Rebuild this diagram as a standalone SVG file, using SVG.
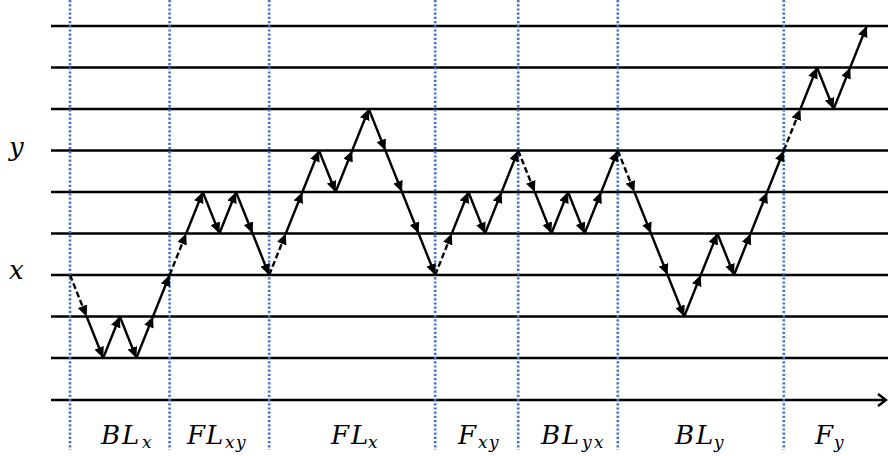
<svg xmlns="http://www.w3.org/2000/svg" width="888" height="456" viewBox="0 0 888 456">
<defs>
<style>
.grid{stroke:#000;stroke-width:2.4;fill:none}
.sep{stroke:#4472C4;stroke-width:2.6;stroke-dasharray:2.2 2;fill:none}
.s{stroke:#000;stroke-width:2.4;fill:none;marker-end:url(#ah)}
.d{stroke:#000;stroke-width:2.4;fill:none;stroke-dasharray:6 3;marker-end:url(#ah)}
.lbl{font-family:"DejaVu Serif","Liberation Serif",serif;font-style:italic;font-size:26px;fill:#000}
.sub{font-size:17px}
</style>
<marker id="ah" markerUnits="userSpaceOnUse" markerWidth="12" markerHeight="10" refX="11" refY="5" orient="auto">
<path d="M0,0 L11,5 L0,10 z" fill="#000"/>
</marker>
</defs>
<rect width="888" height="456" fill="#fff"/>
<g id="grid">
<line class="grid" x1="51" y1="26" x2="888" y2="26"/>
<line class="grid" x1="51" y1="67.5" x2="888" y2="67.5"/>
<line class="grid" x1="51" y1="109" x2="888" y2="109"/>
<line class="grid" x1="51" y1="150.5" x2="888" y2="150.5"/>
<line class="grid" x1="51" y1="192" x2="888" y2="192"/>
<line class="grid" x1="51" y1="233.5" x2="888" y2="233.5"/>
<line class="grid" x1="51" y1="275" x2="888" y2="275"/>
<line class="grid" x1="51" y1="316.5" x2="888" y2="316.5"/>
<line class="grid" x1="51" y1="358" x2="888" y2="358"/>
</g>
<g id="axis">
<line class="grid" x1="51" y1="400" x2="885" y2="400"/>
<path class="grid" d="M878,394 L886,400 L878,406"/>
</g>
<g id="separators">
<line class="sep" x1="70" y1="0" x2="70" y2="450"/>
<line class="sep" x1="169.6" y1="0" x2="169.6" y2="450"/>
<line class="sep" x1="269.2" y1="0" x2="269.2" y2="450"/>
<line class="sep" x1="435.2" y1="0" x2="435.2" y2="450"/>
<line class="sep" x1="518.2" y1="0" x2="518.2" y2="450"/>
<line class="sep" x1="617.8" y1="0" x2="617.8" y2="450"/>
<line class="sep" x1="783.8" y1="0" x2="783.8" y2="450"/>
</g>
<g id="connectors">
<line class="d" x1="70" y1="275" x2="86.6" y2="316.5"/>
<line class="s" x1="86.6" y1="316.5" x2="103.2" y2="358"/>
<line class="s" x1="103.2" y1="358" x2="119.8" y2="316.5"/>
<line class="s" x1="119.8" y1="316.5" x2="136.4" y2="358"/>
<line class="s" x1="136.4" y1="358" x2="153" y2="316.5"/>
<line class="s" x1="153" y1="316.5" x2="169.6" y2="275"/>
<line class="d" x1="169.6" y1="275" x2="186.2" y2="233.5"/>
<line class="s" x1="186.2" y1="233.5" x2="202.8" y2="192"/>
<line class="s" x1="202.8" y1="192" x2="219.4" y2="233.5"/>
<line class="s" x1="219.4" y1="233.5" x2="236" y2="192"/>
<line class="s" x1="236" y1="192" x2="252.6" y2="233.5"/>
<line class="s" x1="252.6" y1="233.5" x2="269.2" y2="275"/>
<line class="d" x1="269.2" y1="275" x2="285.8" y2="233.5"/>
<line class="s" x1="285.8" y1="233.5" x2="302.4" y2="192"/>
<line class="s" x1="302.4" y1="192" x2="319" y2="150.5"/>
<line class="s" x1="319" y1="150.5" x2="335.6" y2="192"/>
<line class="s" x1="335.6" y1="192" x2="352.2" y2="150.5"/>
<line class="s" x1="352.2" y1="150.5" x2="368.8" y2="109"/>
<line class="s" x1="368.8" y1="109" x2="385.4" y2="150.5"/>
<line class="s" x1="385.4" y1="150.5" x2="402" y2="192"/>
<line class="s" x1="402" y1="192" x2="418.6" y2="233.5"/>
<line class="s" x1="418.6" y1="233.5" x2="435.2" y2="275"/>
<line class="d" x1="435.2" y1="275" x2="451.8" y2="233.5"/>
<line class="s" x1="451.8" y1="233.5" x2="468.4" y2="192"/>
<line class="s" x1="468.4" y1="192" x2="485" y2="233.5"/>
<line class="s" x1="485" y1="233.5" x2="501.6" y2="192"/>
<line class="s" x1="501.6" y1="192" x2="518.2" y2="150.5"/>
<line class="d" x1="518.2" y1="150.5" x2="534.8" y2="192"/>
<line class="s" x1="534.8" y1="192" x2="551.4" y2="233.5"/>
<line class="s" x1="551.4" y1="233.5" x2="568" y2="192"/>
<line class="s" x1="568" y1="192" x2="584.6" y2="233.5"/>
<line class="s" x1="584.6" y1="233.5" x2="601.2" y2="192"/>
<line class="s" x1="601.2" y1="192" x2="617.8" y2="150.5"/>
<line class="d" x1="617.8" y1="150.5" x2="634.4" y2="192"/>
<line class="s" x1="634.4" y1="192" x2="651" y2="233.5"/>
<line class="s" x1="651" y1="233.5" x2="667.6" y2="275"/>
<line class="s" x1="667.6" y1="275" x2="684.2" y2="316.5"/>
<line class="s" x1="684.2" y1="316.5" x2="700.8" y2="275"/>
<line class="s" x1="700.8" y1="275" x2="717.4" y2="233.5"/>
<line class="s" x1="717.4" y1="233.5" x2="734" y2="275"/>
<line class="s" x1="734" y1="275" x2="750.6" y2="233.5"/>
<line class="s" x1="750.6" y1="233.5" x2="767.2" y2="192"/>
<line class="s" x1="767.2" y1="192" x2="783.8" y2="150.5"/>
<line class="d" x1="783.8" y1="150.5" x2="800.4" y2="109"/>
<line class="s" x1="800.4" y1="109" x2="817" y2="67.5"/>
<line class="s" x1="817" y1="67.5" x2="833.6" y2="109"/>
<line class="s" x1="833.6" y1="109" x2="850.2" y2="67.5"/>
<line class="s" x1="850.2" y1="67.5" x2="866.8" y2="26"/>
</g>
<g id="axis-labels">
<text class="lbl" x="9" y="156">y</text>
<text class="lbl" x="9" y="279">x</text>
</g>
<g id="phase-labels">
<text id="BLx" class="lbl" y="444"><tspan x="101">B</tspan><tspan x="122">L</tspan><tspan class="sub" x="142" y="448">x</tspan></text>
<text id="FLxy" class="lbl" y="444"><tspan x="187">F</tspan><tspan x="206">L</tspan><tspan class="sub" x="225" y="448">x</tspan><tspan class="sub" x="236" y="448">y</tspan></text>
<text id="FLx" class="lbl" y="444"><tspan x="331">F</tspan><tspan x="351">L</tspan><tspan class="sub" x="368" y="448">x</tspan></text>
<text id="Fxy" class="lbl" y="444"><tspan x="458">F</tspan><tspan class="sub" x="478" y="448">x</tspan><tspan class="sub" x="489" y="448">y</tspan></text>
<text id="BLyx" class="lbl" y="444"><tspan x="541">B</tspan><tspan x="562">L</tspan><tspan class="sub" x="582" y="448">y</tspan><tspan class="sub" x="594" y="448">x</tspan></text>
<text id="BLy" class="lbl" y="444"><tspan x="675">B</tspan><tspan x="696">L</tspan><tspan class="sub" x="714" y="448">y</tspan></text>
<text id="Fy" class="lbl" y="444"><tspan x="815">F</tspan><tspan class="sub" x="834" y="448">y</tspan></text>
</g>
</svg>
